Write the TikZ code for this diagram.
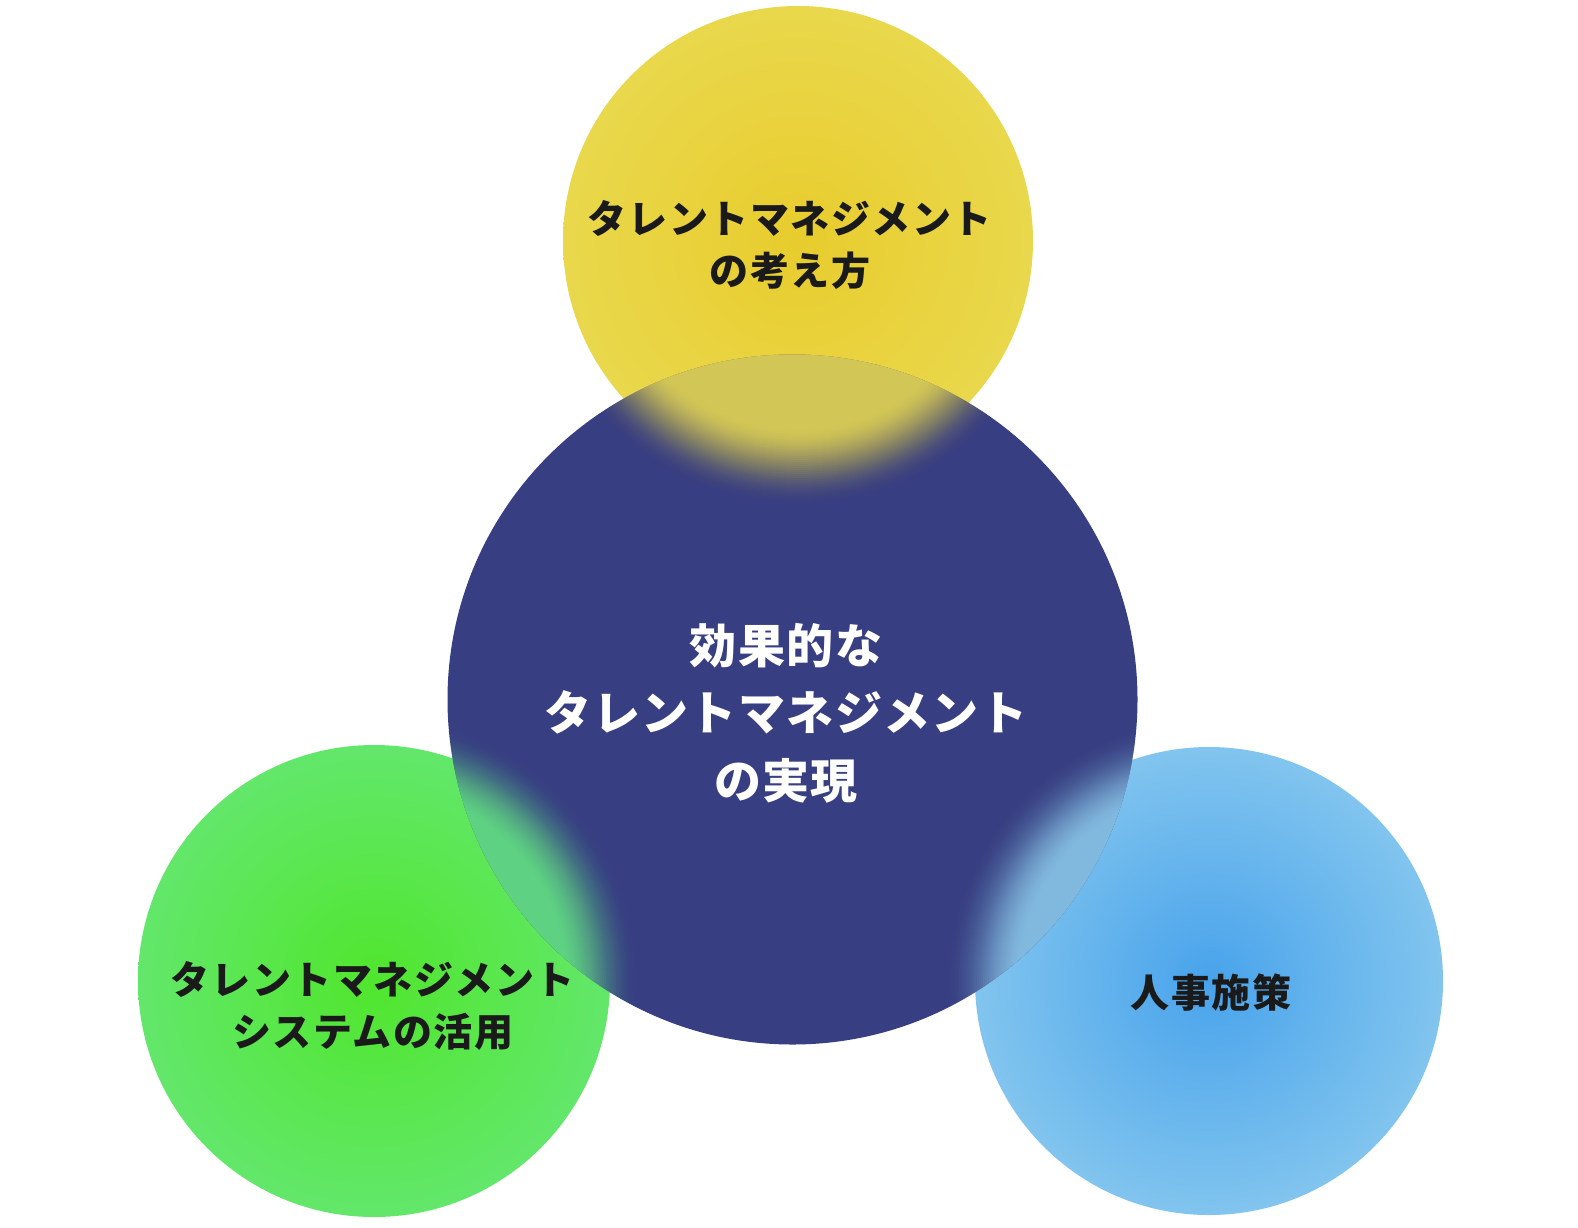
\documentclass[tikz,border=0pt]{standalone}
\usepackage{fontspec}
\newfontfamily\jp[LetterSpace=4]{Noto Sans CJK JP}
\newfontfamily\jpn[LetterSpace=3]{Noto Sans CJK JP}
\definecolor{ycen}{RGB}{232,204,45}
\definecolor{yedge}{RGB}{234,221,88}
\definecolor{gcen}{RGB}{80,230,45}
\definecolor{gedge}{RGB}{106,232,132}
\definecolor{bcen}{RGB}{72,163,235}
\definecolor{bedge}{RGB}{152,210,240}
\definecolor{navy}{RGB}{56,62,130}
\definecolor{ink}{RGB}{26,26,26}
\pgfdeclareradialshading{yshade}{\pgfpoint{0bp}{0bp}}{color(0bp)=(ycen); color(35bp)=(yedge); color(50bp)=(yedge)}
\pgfdeclareradialshading{gshade}{\pgfpoint{0bp}{0bp}}{color(0bp)=(gcen); color(35bp)=(gedge); color(50bp)=(gedge)}
\pgfdeclareradialshading{bshade}{\pgfpoint{0bp}{0bp}}{color(0bp)=(bcen); color(35bp)=(bedge); color(50bp)=(bedge)}
% soft (blurred) disk made of stacked translucent discs
\newcommand\softdisk[3]{%
  \foreach \k in {1,...,40}{%
    \pgfmathsetmacro\tk{0.9*(3*(\k/40)^2-2*(\k/40)^3)}%
    \pgfmathsetmacro\tp{0.9*(3*((\k-1)/40)^2-2*((\k-1)/40)^3)}%
    \pgfmathsetmacro\ak{1-(1-\tk)/(1-\tp)}%
    \pgfmathsetmacro\rk{#3+30-80*(\k-1)/40}%
    \fill[#1, fill opacity=\ak] (#2) circle[radius=\rk];
  }}
\tikzset{
  label dark/.style={text=ink, align=center, font=\jp\bfseries\fontsize{39}{52}\selectfont},
  label light/.style={text=white, align=center, font=\jpn\bfseries\fontsize{47}{67.5}\selectfont}
}
\begin{document}
\begin{tikzpicture}[x=1pt,y=-1pt]
\useasboundingbox (0,0) rectangle (1578,1227);
\fill[white] (0,0) rectangle (1578,1227);
% centres
\coordinate (cy) at (798,241);
\coordinate (cg) at (374,981);
\coordinate (cb) at (1209,981);
\coordinate (cn) at (792.5,699.5);
% outer circles
\shade[shading=yshade] (cy) circle[radius=235];
\shade[shading=gshade] (cg) circle[radius=236];
\shade[shading=bshade] (cb) circle[radius=234];
% central circle
\fill[navy] (cn) circle[radius=345];
% soft overlaps inside central circle
\begin{scope}
  \clip (cn) circle[radius=345];
  \softdisk{yedge!95!ycen}{cy}{235}
  \softdisk{gedge}{cg}{236}
  \softdisk{bedge!90!bcen}{cb}{234}
\end{scope}
% labels
\node[label dark] (ty) at (790,245) {タレントマネジメント\\の考え方};
\node[label light] (tn) at (786,713) {効果的な\\タレントマネジメント\\の実現};
\node[label dark] (tg) at (373,1006) {タレントマネジメント\\システムの活用};
\node[label dark] (tb) at (1211,993) {人事施策};
\end{tikzpicture}
\end{document}
